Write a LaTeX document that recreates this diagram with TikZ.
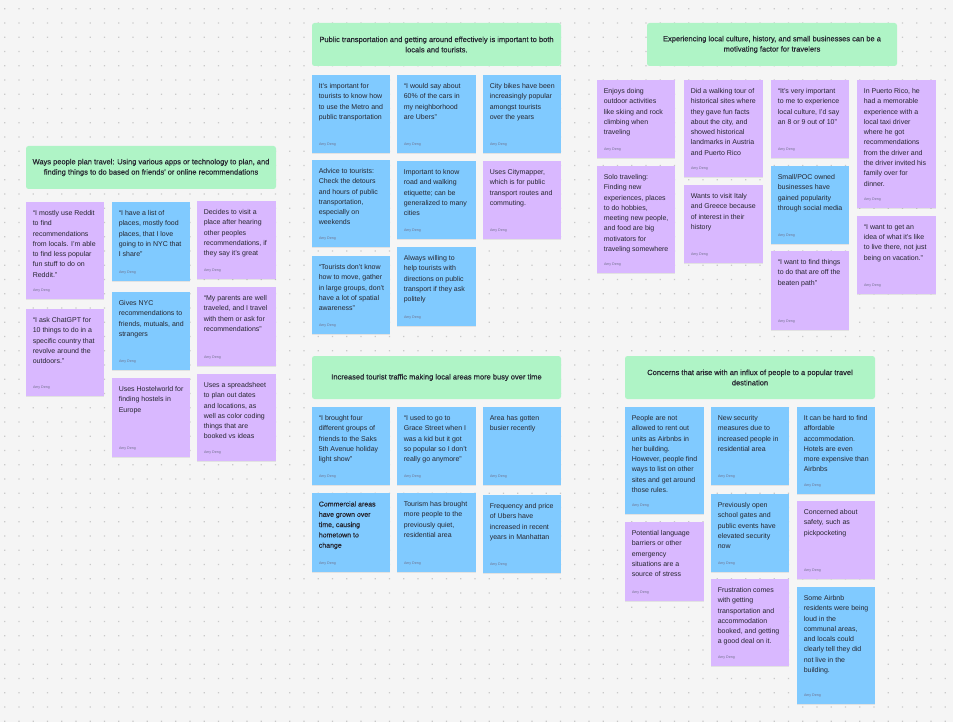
\documentclass[tikz,border=0pt]{standalone}
\usepackage{fontspec}
\setmainfont{Liberation Sans}
\newfontfamily\hdrfont[FakeBold=0.5]{Liberation Sans}
\usetikzlibrary{fit,shadows}
\definecolor{bgc}{HTML}{F5F5F5}
\definecolor{dotc}{HTML}{C9C9C9}
\definecolor{grn}{HTML}{AFF4C6}
\definecolor{blu}{HTML}{80CAFF}
\definecolor{pur}{HTML}{D9B8FF}
\definecolor{txtc}{HTML}{262630}
\definecolor{authc}{HTML}{6F6F8A}
\tikzset{
  stkbox/.style={draw=none, inner sep=0pt, drop shadow={shadow xshift=0pt, shadow yshift=-1.2pt, opacity=0.16}},
  hdrbox/.style={draw=none, inner sep=0pt, rounded corners=2.5pt},
  stktxt/.style={inner sep=0pt, align=left, text=txtc, font=\fontsize{7}{10.3}\selectfont},
  hdrtxt/.style={inner sep=0pt, align=center, text=txtc, font=\hdrfont\fontsize{7.5}{10.3}\selectfont},
  auth/.style={inner sep=0pt, text=authc, font=\fontsize{3.6}{4}\selectfont}
}
\newcommand{\stk}[7]{%
  \coordinate (#1a) at (#2,#3); \coordinate (#1b) at (#4,#5);
  \node[stkbox, fill=#6, fit=(#1a)(#1b)] (#1) {};
  \node[stktxt, anchor=north west] (#1t) at ([xshift=6.8pt,yshift=-8.4pt]#1.north west) {#7};
  \node[auth, anchor=west] (#1n) at ([xshift=7pt,yshift=9pt]#1.south west) {Amy Deng};
}
\newcommand{\hdr}[6]{%
  \coordinate (#1a) at (#2,#3); \coordinate (#1b) at (#4,#5);
  \node[hdrbox, fill=grn, fit=(#1a)(#1b)] (#1) {};
  \node[hdrtxt] (#1t) at (#1.center) {#6};
}
\begin{document}
\begin{tikzpicture}[x=1pt,y=-1pt]
\useasboundingbox (0,0) rectangle (953,722);
\fill[bgc] (0,0) rectangle (953,722);
\fill[dotc] \foreach \i in {0,...,66} { \foreach \j in {0,...,50} { ({4.2+\i*14.25},{8.2+\j*14.25}) rectangle ++(1.1,1.1) } };

% ---------- Group 1 ----------
\hdr{h1}{26}{146}{276}{189}{Ways people plan travel: Using various apps or technology to plan, and\\finding things to do based on friends' or online recommendations}
\stk{a1}{26}{202}{104}{299}{pur}{“I mostly use Reddit\\to find\\recommendations\\from locals. I’m able\\to find less popular\\fun stuff to do on\\Reddit.”}
\stk{a2}{26}{309}{104}{396}{pur}{“I ask ChatGPT for\\10 things to do in a\\specific country that\\revolve around the\\outdoors.”}
\stk{a3}{112}{202}{190}{281}{blu}{“I have a list of\\places, mostly food\\places, that I love\\going to in NYC that\\I share”}
\stk{a4}{112}{292}{190}{370}{blu}{Gives NYC\\recommendations to\\friends, mutuals, and\\strangers}
\stk{a5}{112}{378}{190}{457}{pur}{Uses Hostelworld for\\finding hostels in\\Europe}
\stk{a6}{197}{201}{276}{279}{pur}{Decides to visit a\\place after hearing\\other peoples\\recommendations, if\\they say it’s great}
\stk{a7}{197}{287}{276}{366}{pur}{“My parents are well\\traveled, and I travel\\with them or ask for\\recommendations”}
\stk{a8}{197}{374}{276}{461}{pur}{Uses a spreadsheet\\to plan out dates\\and locations, as\\well as color coding\\things that are\\booked vs ideas}

% ---------- Group 2 ----------
\hdr{h2}{312}{23}{561}{66}{Public transportation and getting around effectively is important to both\\locals and tourists.}
\stk{b1}{312}{75}{390}{153}{blu}{It’s important for\\tourists to know how\\to use the Metro and\\public transportation}
\stk{b2}{312}{160}{390}{247}{blu}{Advice to tourists:\\Check the detours\\and hours of public\\transportation,\\especially on\\weekends}
\stk{b3}{312}{256}{390}{334}{blu}{“Tourists don’t know\\how to move, gather\\in large groups, don’t\\have a lot of spatial\\awareness”}
\stk{b4}{397}{75}{476}{153}{blu}{“I would say about\\60\% of the cars in\\my neighborhood\\are Ubers”}
\stk{b5}{397}{161}{476}{239}{blu}{Important to know\\road and walking\\etiquette; can be\\generalized to many\\cities}
\stk{b6}{397}{247}{476}{326}{blu}{Always willing to\\help tourists with\\directions on public\\transport if they ask\\politely}
\stk{b7}{483}{75}{561}{153}{blu}{City bikes have been\\increasingly popular\\amongst tourists\\over the years}
\stk{b8}{483}{161}{561}{239}{pur}{Uses Citymapper,\\which is for public\\transport routes and\\commuting.}

% ---------- Group 3 ----------
\hdr{h3}{647}{23}{897}{66}{Experiencing local culture, history, and small businesses can be a\\motivating factor for travelers}
\stk{c1}{597}{80}{675}{158}{pur}{Enjoys doing\\outdoor activities\\like skiing and rock\\climbing when\\traveling}
\stk{c2}{597}{166}{675}{273}{pur}{Solo traveling:\\Finding new\\experiences, places\\to do hobbies,\\meeting new people,\\and food are big\\motivators for\\traveling somewhere}
\stk{c3}{684}{80}{763}{177}{pur}{Did a walking tour of\\historical sites where\\they gave fun facts\\about the city, and\\showed historical\\landmarks in Austria\\and Puerto Rico}
\stk{c4}{684}{185}{763}{263}{pur}{Wants to visit Italy\\and Greece because\\of interest in their\\history}
\stk{c5}{771}{80}{849}{158}{pur}{“It’s very important\\to me to experience\\local culture, I’d say\\an 8 or 9 out of 10”}
\stk{c6}{771}{166}{849}{244}{blu}{Small/POC owned\\businesses have\\gained popularity\\through social media}
\stk{c7}{771}{251}{849}{330}{pur}{“I want to find things\\to do that are off the\\beaten path”}
\stk{c8}{857}{80}{936}{208}{pur}{In Puerto Rico, he\\had a memorable\\experience with a\\local taxi driver\\where he got\\recommendations\\from the driver and\\the driver invited his\\family over for\\dinner.}
\stk{c9}{857}{216}{936}{294}{pur}{“I want to get an\\idea of what it’s like\\to live there, not just\\being on vacation.”}

% ---------- Group 4 ----------
\hdr{h4}{312}{356}{561}{399}{Increased tourist traffic making local areas more busy over time}
\stk{d1}{312}{407}{390}{485}{blu}{“I brought four\\different groups of\\friends to the Saks\\5th Avenue holiday\\light show”}
\stk{d2}{312}{493}{390}{572}{blu}{\hdrfont Commercial areas\\\hdrfont have grown over\\\hdrfont time, causing\\\hdrfont hometown to\\\hdrfont change}
\stk{d3}{397}{407}{476}{485}{blu}{“I used to go to\\Grace Street when I\\was a kid but it got\\so popular so I don’t\\really go anymore”}
\stk{d4}{397}{493}{476}{572}{blu}{Tourism has brought\\more people to the\\previously quiet,\\residential area}
\stk{d5}{483}{407}{561}{485}{blu}{Area has gotten\\busier recently}
\stk{d6}{483}{495}{561}{573}{blu}{Frequency and price\\of Ubers have\\increased in recent\\years in Manhattan}

% ---------- Group 5 ----------
\hdr{h5}{625}{356}{875}{399}{Concerns that arise with an influx of people to a popular travel\\destination}
\stk{e1}{625}{407}{704}{514}{blu}{People are not\\allowed to rent out\\units as Airbnbs in\\her building.\\However, people find\\ways to list on other\\sites and get around\\those rules.}
\stk{e2}{625}{522}{704}{601}{pur}{Potential language\\barriers or other\\emergency\\situations are a\\source of stress}
\stk{e3}{711}{407}{789}{485}{blu}{New security\\measures due to\\increased people in\\residential area}
\stk{e4}{711}{494}{789}{572}{blu}{Previously open\\school gates and\\public events have\\elevated security\\now}
\stk{e5}{711}{579}{789}{666}{pur}{Frustration comes\\with getting\\transportation and\\accommodation\\booked, and getting\\a good deal on it.}
\stk{e6}{797}{407}{875}{494}{blu}{It can be hard to find\\affordable\\accommodation.\\Hotels are even\\more expensive than\\Airbnbs}
\stk{e7}{797}{501}{875}{579}{pur}{Concerned about\\safety, such as\\pickpocketing}
\stk{e8}{797}{587}{875}{704}{blu}{Some Airbnb\\residents were being\\loud in the\\communal areas,\\and locals could\\clearly tell they did\\not live in the\\building.}
\end{tikzpicture}
\end{document}
